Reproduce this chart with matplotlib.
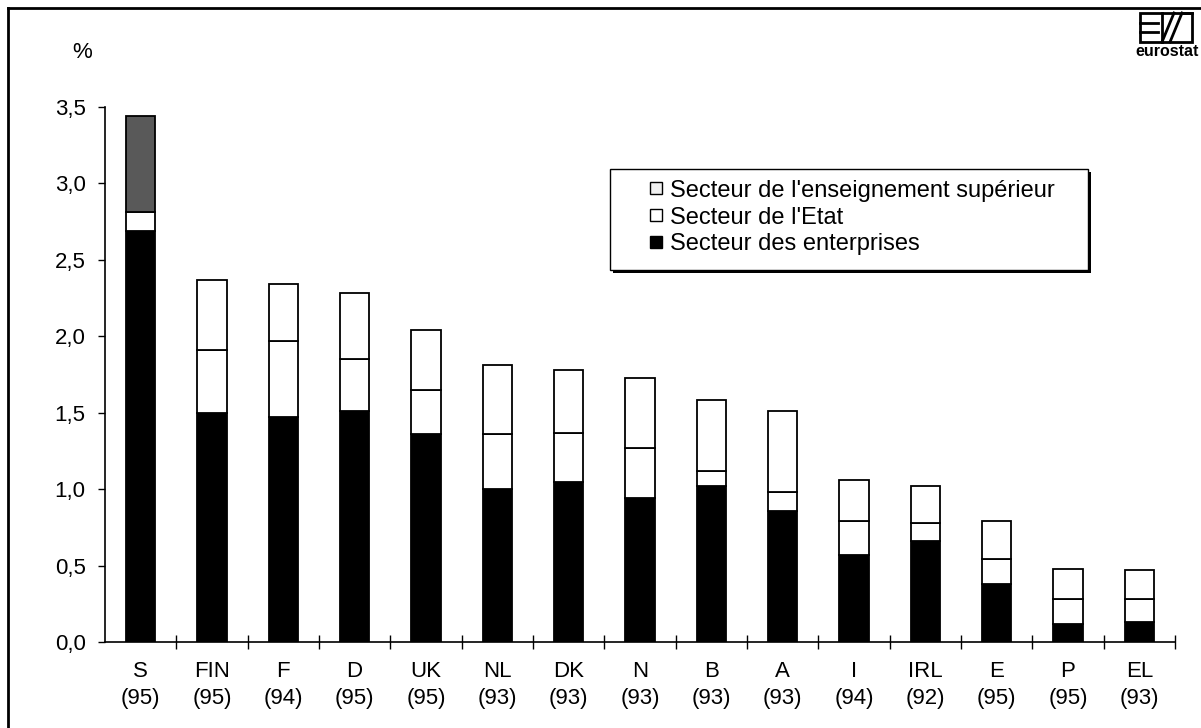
import matplotlib
matplotlib.use("Agg")
import matplotlib.pyplot as plt
from matplotlib.patches import Rectangle
from matplotlib.lines import Line2D
import numpy as np

plt.rcParams['font.family'] = ['Liberation Sans', 'DejaVu Sans']

countries = ['S', 'FIN', 'F', 'D', 'UK', 'NL', 'DK', 'N', 'B', 'A', 'I', 'IRL', 'E', 'P', 'EL']
years = ['95', '95', '94', '95', '95', '93', '93', '93', '93', '93', '94', '92', '95', '95', '93']
enterprises = [2.69, 1.50, 1.47, 1.51, 1.36, 1.00, 1.05, 0.94, 1.02, 0.86, 0.57, 0.66, 0.38, 0.12, 0.13]
etat = [0.12, 0.41, 0.50, 0.34, 0.29, 0.36, 0.32, 0.33, 0.10, 0.12, 0.22, 0.12, 0.16, 0.16, 0.15]
superieur = [0.63, 0.46, 0.37, 0.43, 0.39, 0.45, 0.41, 0.46, 0.46, 0.53, 0.27, 0.24, 0.25, 0.20, 0.19]
yticks = [0.0, 0.5, 1.0, 1.5, 2.0, 2.5, 3.0, 3.5]
legend_labels = ["Secteur de l'enseignement supérieur", "Secteur de l'Etat", "Secteur des enterprises"]

W, H = 1201, 728
fig = plt.figure(figsize=(W / 100, H / 100), dpi=100)

def fx(px):
    return px / W

def fy(py):
    return 1 - py / H

ax_left, ax_right, ax_top, ax_bot = 105, 1175, 107, 642
ax = fig.add_axes([fx(ax_left), fy(ax_bot), (ax_right - ax_left) / W, (ax_bot - ax_top) / H])

x = np.arange(len(countries))
width = 0.41
ent = np.array(enterprises)
eta = np.array(etat)
sup = np.array(superieur)
top_colors = ['#595959'] + ['white'] * (len(countries) - 1)

ax.bar(x, ent, width, color='black', edgecolor='black', linewidth=1.3, zorder=3)
ax.bar(x, eta, width, bottom=ent, color='white', edgecolor='black', linewidth=1.3, zorder=3)
ax.bar(x, sup, width, bottom=ent + eta, color=top_colors, edgecolor='black', linewidth=1.3, zorder=3)

ax.set_xlim(-0.5, len(countries) - 0.5)
ax.set_ylim(0, 3.5)
ax.set_yticks(yticks)
ax.set_yticklabels([f"{v:.1f}".replace('.', ',') for v in yticks], fontsize=16)
ax.set_xticks(x)
ax.set_xticklabels([f"{c}\n({y})" for c, y in zip(countries, years)], fontsize=16, linespacing=1.35)
ax.set_xticks(np.arange(0.5, len(countries), 1.0), minor=True)
ax.tick_params(axis='x', which='major', length=0, pad=14)
ax.tick_params(axis='x', which='minor', direction='inout', length=10, width=1)
ax.tick_params(axis='y', which='major', direction='out', length=5, width=1, pad=9)
for s in ['top', 'right']:
    ax.spines[s].set_visible(False)
ax.spines['left'].set_linewidth(1.2)
ax.spines['bottom'].set_linewidth(1.2)

# legend drawn in figure pixel coordinates
lx0, lx1, ly0, ly1 = 610, 1088, 169, 270
fig.add_artist(Rectangle((fx(lx0 + 3), fy(ly1 + 3)), (lx1 - lx0) / W, (ly1 - ly0) / H,
                         facecolor='black', edgecolor='black', lw=0))
fig.add_artist(Rectangle((fx(lx0), fy(ly1)), (lx1 - lx0) / W, (ly1 - ly0) / H,
                         facecolor='white', edgecolor='black', lw=1.0))
row_y = [188, 215, 242]
marker_colors = ['#f0f0f0', 'white', 'black']
for ry, lab, mc in zip(row_y, legend_labels, marker_colors):
    fig.add_artist(Rectangle((fx(650), fy(ry + 6)), 12 / W, 12 / H,
                             facecolor=mc, edgecolor='black', lw=1.0))
    fig.text(fx(670), fy(ry), lab, fontsize=17, ha='left', va='center_baseline')

fig.text(fx(82), fy(52), '%', fontsize=16, ha='center', va='center')

# outer frame (left and top)
fig.add_artist(Line2D([fx(8), fx(8)], [fy(8), fy(728)], color='black', lw=2))
fig.add_artist(Line2D([fx(8), fx(1201)], [fy(8), fy(8)], color='black', lw=2))

# eurostat logo
bx0, bx1, by0, by1 = 1140, 1192, 13, 42
fig.add_artist(Rectangle((fx(bx0), fy(by1)), (bx1 - bx0) / W, (by1 - by0) / H,
                         fill=False, edgecolor='black', lw=2))
def seg(xa, ya, xb, yb):
    fig.add_artist(Line2D([fx(xa), fx(xb)], [fy(ya), fy(yb)], color='black', lw=2))
seg(bx0, 23, 1158, 23)
seg(bx0, 32, 1158, 32)
seg(1162, by0, 1162, by1)
seg(1162, by1, 1174, by0)
seg(1170, by1, 1182, by0)
seg(1182, by0, 1192, by0)
fig.text(fx(1167), fy(51), 'eurostat', fontsize=11.5, fontweight='bold', ha='center', va='center')

fig.savefig('out.png', dpi=100)
